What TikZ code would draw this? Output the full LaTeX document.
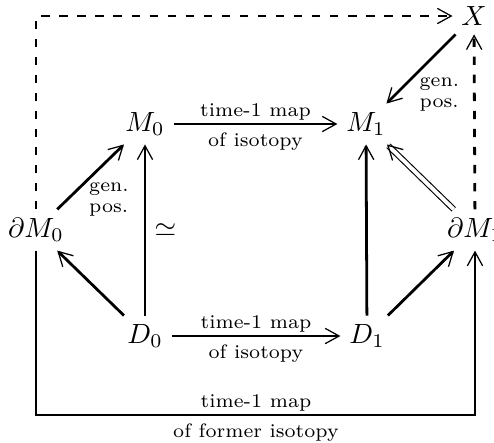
\documentclass[tikz,border=0pt]{standalone}
\usetikzlibrary{arrows.meta}
\begin{document}
\begin{tikzpicture}[x=0.36pt, y=-0.36pt,
		>={Straight Barb[length=5pt, width=5.5pt, line width=0.45pt]},
		every node/.style={inner sep=3pt},
		map/.style={->, line width=1pt},
		lbl/.style={font=\scriptsize, inner sep=1pt},
		lblb/.style={font=\scriptsize, inner sep=2.5pt}]
			\useasboundingbox (0,0) rectangle (494,442);
			\node (X) at (474,16) {$X$};
			\node (M0) at (145,124) {$M_0$};
			\node (M1) at (366,124) {$M_1$};
			\node (dM0) at (36,230) {$\partial M_0$};
			\node (dM1) at (475,230) {$\partial M_1$};
			\node (D0) at (145,336) {$D_0$};
			\node (D1) at (367,336) {$D_1$};
			\coordinate (low) at (256,415);
			% top square
			\draw [map] (M0) -- (M1)
				node[lbl, midway, above] {time-1 map}
				node[lblb, midway, below] {of isotopy};
			\draw [map] (dM0) -- (M0)
				node[lbl, midway, below right, xshift=-2pt, yshift=-0.5pt] {\shortstack[l]{gen.\\pos.}};
			\draw [map] (D0) -- (M0) node[midway, right] {$\simeq$};
			\draw [map] (D0) -- (dM0);
			\draw [map] (X) -- (M1)
				node[lbl, midway, below right, xshift=-2pt, yshift=-1.5pt] {\shortstack[l]{gen.\\pos.}};
			\draw [->, line width=0.4pt, double, double distance=1.4pt] (dM1) -- (M1);
			% bottom square
			\draw [map] (D0) -- (D1)
				node[lbl, midway, above] {time-1 map}
				node[lblb, midway, below] {of isotopy};
			\draw [map] (D1) -- (M1);
			\draw [map] (D1) -- (dM1);
			\draw [map] (dM0) |- (low)
				node[lbl, above] {time-1 map}
				node[lblb, below] {of former isotopy} -| (dM1);
			% dashed maps to X
			\draw [map, dash pattern=on 3pt off 3.5pt] (dM0) |- (X);
			\draw [map, dash pattern=on 3pt off 3.5pt] (dM1) -- (X);
		\end{tikzpicture}
\end{document}
